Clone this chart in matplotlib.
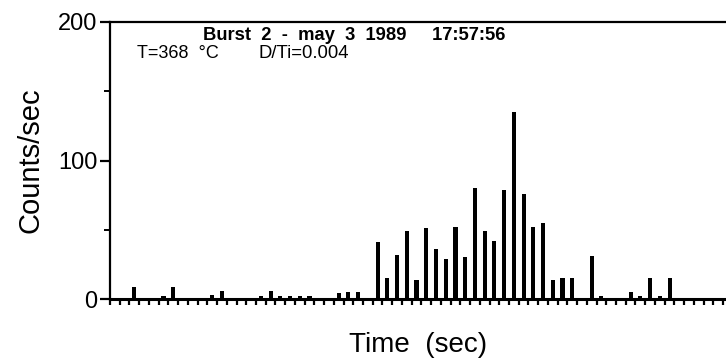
import numpy as np
import matplotlib
matplotlib.use("Agg")
import matplotlib.pyplot as plt

plt.rcParams['font.family'] = ['Liberation Sans', 'DejaVu Sans']

# counts per time bin (one bar per bin)
counts = [0, 0, 9, 0, 0, 2, 9, 0, 0, 0,
          3, 6, 0, 0, 0, 2, 6, 2, 2, 2,
          2, 0, 0, 4, 5, 5, 0, 41, 15, 32,
          49, 14, 51, 36, 29, 52, 30, 80, 49, 42,
          79, 135, 76, 52, 55, 14, 15, 15, 1, 31,
          2, 1, 0, 5, 2, 15, 2, 15, 0, 0,
          0, 0, 0, 0]
y_ticks = [0, 100, 200]
y_labels = ["0", "100", "200"]
title = "Burst  2  -  may  3  1989     17:57:56"
cond_t = "T=368  \u00b0C"
cond_d = "D/Ti=0.004"

W, H = 726, 358
fig = plt.figure(figsize=(W / 100, H / 100), dpi=100)
ax = fig.add_axes([110 / W, 1 - 299 / H, 1 - 110 / W, (299 - 22) / H])

x = np.arange(len(counts)) + 0.5
ax.bar(x, counts, width=0.42, color='black')

ax.set_xlim(0, 63.3)
ax.set_ylim(0, 200)

ax.spines['right'].set_visible(False)
ax.spines['left'].set_linewidth(1.6)
ax.spines['top'].set_linewidth(1.6)
ax.spines['bottom'].set_linewidth(2.2)

ax.set_xticks(np.arange(0, 64))
ax.set_xticklabels([])
ax.tick_params(axis='x', direction='out', length=4, width=1.6)
ax.set_yticks(y_ticks)
ax.set_yticklabels(y_labels, fontsize=17)
ax.set_yticks([50, 150], minor=True)
ax.tick_params(axis='y', which='major', direction='out', length=7, width=1.6, pad=2)
ax.tick_params(axis='y', which='minor', direction='out', length=4, width=1.4)

ax.set_ylabel("Counts/sec", fontsize=21, labelpad=10)
ax.set_xlabel("Time  (sec)", fontsize=20, labelpad=16)

fig.text(203 / W, 1 - 35 / H, title, fontsize=13.2, fontweight='bold', va='center', ha='left')
fig.text(137 / W, 1 - 53 / H, cond_t, fontsize=13, va='center', ha='left')
fig.text(258 / W, 1 - 53 / H, cond_d, fontsize=13.3, va='center', ha='left')

fig.savefig("out.png", dpi=100)
